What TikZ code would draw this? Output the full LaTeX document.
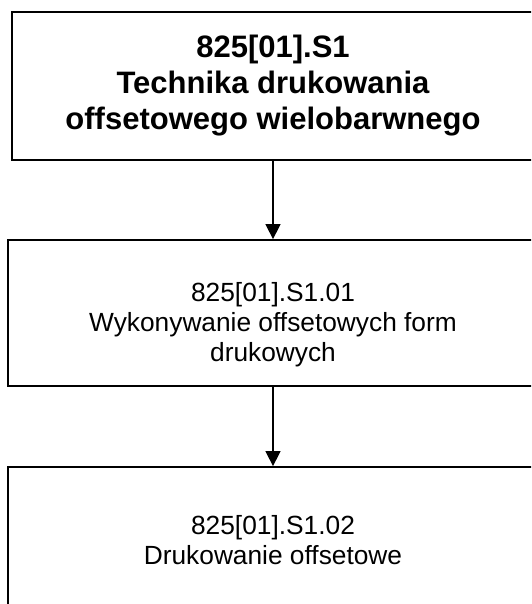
\documentclass[tikz,border=0pt]{standalone}
\usepackage{fontspec}
\setmainfont{Liberation Sans}
\usetikzlibrary{arrows.meta}

\begin{document}
\begin{tikzpicture}[x=1pt, y=-1pt, -{Triangle[width=15pt,length=15pt]}, line width=1.5pt,
  main box/.style={draw, line width=1.8pt, minimum width=522pt, minimum height=148pt, align=center, font=\fontsize{31}{36}\selectfont\bfseries},
  sub box/.style={draw, line width=1.8pt, minimum width=530pt, minimum height=146pt, align=center, font=\fontsize{26.3}{30}\selectfont},
  sub text/.style={align=center, font=\fontsize{26.3}{30}\selectfont}]
\clip (0,0) rectangle (531,604);
\node[main box] (top) at (273,86) {825[01].S1\\Technika drukowania\\offsetowego wielobarwnego};
\node[sub box] (mid) at (273,313) {};
\node[sub text] (midtext) at (273,325) {825[01].S1.01\\Wykonywanie offsetowych form\\drukowych};
\node[sub box] (bot) at (273,540) {825[01].S1.02\\Drukowanie offsetowe};
\path
(top) edge (mid)
(mid) edge (bot);
\end{tikzpicture}
\end{document}
